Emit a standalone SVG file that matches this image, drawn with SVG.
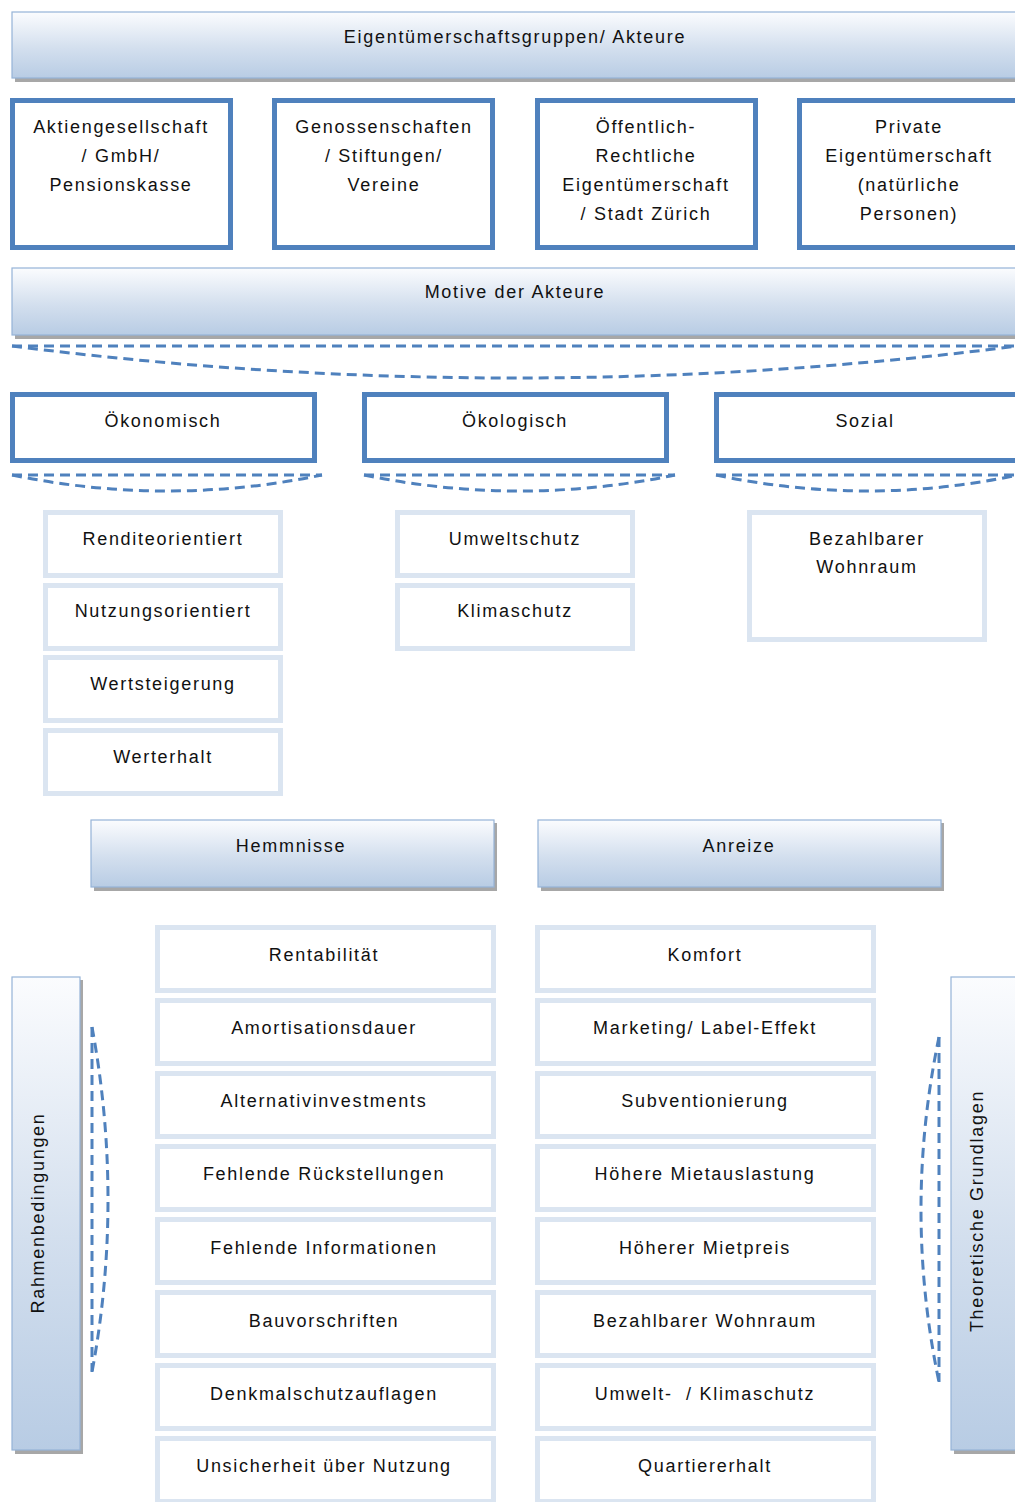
<svg xmlns="http://www.w3.org/2000/svg" width="1015" height="1502" viewBox="0 0 1015 1502">
<defs>
<linearGradient id="hg" x1="0" y1="0" x2="0" y2="1">
<stop offset="0" stop-color="#fbfcfe"/>
<stop offset="0.55" stop-color="#d3dfee"/>
<stop offset="1" stop-color="#b8cce4"/>
</linearGradient>
<style>
.t{font-family:"Liberation Sans",Arial,sans-serif;font-size:18px;letter-spacing:1.7px;fill:#111;text-anchor:middle}
.hdr{fill:url(#hg);stroke:#95b3d7;stroke-width:1.2}
.sh{fill:#8a8a8a;opacity:0.75}
.thick{fill:#fff;stroke:#4f81bd;stroke-width:5}
.light{fill:#fff;stroke:#dbe5f1;stroke-width:5}
.dash{fill:none;stroke:#4f81bd;stroke-width:3;stroke-dasharray:10 6}
</style>
</defs>
<rect width="1015" height="1502" fill="#fff"/>

<g id="header-eigentuemer">
<rect class="sh" x="15" y="15" width="1010" height="67"/>
<rect class="hdr" x="12" y="12" width="1010" height="66"/>
<text class="t" x="515" y="43">Eigentümerschaftsgruppen/ Akteure</text>
</g>

<g id="ag">
<rect class="thick" x="12.5" y="100.5" width="218" height="147"/>
<text class="t" x="121" y="133">Aktiengesellschaft</text>
<text class="t" x="121" y="162">/ GmbH/</text>
<text class="t" x="121" y="191">Pensionskasse</text>
</g>
<g id="genossenschaften">
<rect class="thick" x="274.5" y="100.5" width="218" height="147"/>
<text class="t" x="384" y="133">Genossenschaften</text>
<text class="t" x="384" y="162">/ Stiftungen/</text>
<text class="t" x="384" y="191">Vereine</text>
</g>
<g id="oeffentlich">
<rect class="thick" x="537.5" y="100.5" width="218" height="147"/>
<text class="t" x="646" y="133">Öffentlich-</text>
<text class="t" x="646" y="162">Rechtliche</text>
<text class="t" x="646" y="191">Eigentümerschaft</text>
<text class="t" x="646" y="220">/ Stadt Zürich</text>
</g>
<g id="private">
<rect class="thick" x="799.5" y="100.5" width="218" height="147"/>
<text class="t" x="909" y="133">Private</text>
<text class="t" x="909" y="162">Eigentümerschaft</text>
<text class="t" x="909" y="191">(natürliche</text>
<text class="t" x="909" y="220">Personen)</text>
</g>

<g id="header-motive">
<rect class="sh" x="15" y="271" width="1010" height="68"/>
<rect class="hdr" x="12" y="268" width="1010" height="67"/>
<text class="t" x="515" y="298">Motive der Akteure</text>
</g>

<g id="oekonomisch">
<rect class="thick" x="12.5" y="394.5" width="302" height="66"/>
<text class="t" x="163" y="427">Ökonomisch</text>
</g>
<g id="oekologisch">
<rect class="thick" x="364.5" y="394.5" width="302" height="66"/>
<text class="t" x="515" y="427">Ökologisch</text>
</g>
<g id="sozial">
<rect class="thick" x="716.5" y="394.5" width="302" height="66"/>
<text class="t" x="865" y="427">Sozial</text>
</g>

<g id="renditeorientiert">
<rect class="light" x="45.5" y="512.5" width="235" height="63"/>
<text class="t" x="163" y="545">Renditeorientiert</text>
</g>
<g id="nutzungsorientiert">
<rect class="light" x="45.5" y="585.5" width="235" height="63"/>
<text class="t" x="163" y="617">Nutzungsorientiert</text>
</g>
<g id="wertsteigerung">
<rect class="light" x="45.5" y="657.5" width="235" height="63"/>
<text class="t" x="163" y="690">Wertsteigerung</text>
</g>
<g id="werterhalt">
<rect class="light" x="45.5" y="730.5" width="235" height="63"/>
<text class="t" x="163" y="763">Werterhalt</text>
</g>
<g id="umweltschutz">
<rect class="light" x="397.5" y="512.5" width="235" height="63"/>
<text class="t" x="515" y="545">Umweltschutz</text>
</g>
<g id="klimaschutz">
<rect class="light" x="397.5" y="585.5" width="235" height="63"/>
<text class="t" x="515" y="617">Klimaschutz</text>
</g>
<g id="bezahlbarer-wohnraum">
<rect class="light" x="749.5" y="512.5" width="235" height="127"/>
<text class="t" x="867" y="545">Bezahlbarer</text>
<text class="t" x="867" y="573">Wohnraum</text>
</g>

<g id="hemmnisse">
<rect class="sh" x="94" y="823" width="403" height="68"/>
<rect class="hdr" x="91" y="820" width="403" height="67"/>
<text class="t" x="291" y="852">Hemmnisse</text>
</g>
<g id="anreize">
<rect class="sh" x="541" y="823" width="403" height="68"/>
<rect class="hdr" x="538" y="820" width="403" height="67"/>
<text class="t" x="739" y="852">Anreize</text>
</g>

<g id="h1"><rect class="light" x="157.5" y="927.5" width="336" height="63"/><text class="t" x="324" y="961">Rentabilität</text></g>
<g id="h2"><rect class="light" x="157.5" y="1000.5" width="336" height="63"/><text class="t" x="324" y="1034">Amortisationsdauer</text></g>
<g id="h3"><rect class="light" x="157.5" y="1073.5" width="336" height="63"/><text class="t" x="324" y="1107">Alternativinvestments</text></g>
<g id="h4"><rect class="light" x="157.5" y="1146.5" width="336" height="63"/><text class="t" x="324" y="1180">Fehlende Rückstellungen</text></g>
<g id="h5"><rect class="light" x="157.5" y="1219.5" width="336" height="63"/><text class="t" x="324" y="1254">Fehlende Informationen</text></g>
<g id="h6"><rect class="light" x="157.5" y="1292.5" width="336" height="63"/><text class="t" x="324" y="1327">Bauvorschriften</text></g>
<g id="h7"><rect class="light" x="157.5" y="1365.5" width="336" height="63"/><text class="t" x="324" y="1400">Denkmalschutzauflagen</text></g>
<g id="h8"><rect class="light" x="157.5" y="1438.5" width="336" height="63"/><text class="t" x="324" y="1472">Unsicherheit über Nutzung</text></g>

<g id="a1"><rect class="light" x="537.5" y="927.5" width="336" height="63"/><text class="t" x="705" y="961">Komfort</text></g>
<g id="a2"><rect class="light" x="537.5" y="1000.5" width="336" height="63"/><text class="t" x="705" y="1034">Marketing/ Label-Effekt</text></g>
<g id="a3"><rect class="light" x="537.5" y="1073.5" width="336" height="63"/><text class="t" x="705" y="1107">Subventionierung</text></g>
<g id="a4"><rect class="light" x="537.5" y="1146.5" width="336" height="63"/><text class="t" x="705" y="1180">Höhere Mietauslastung</text></g>
<g id="a5"><rect class="light" x="537.5" y="1219.5" width="336" height="63"/><text class="t" x="705" y="1254">Höherer Mietpreis</text></g>
<g id="a6"><rect class="light" x="537.5" y="1292.5" width="336" height="63"/><text class="t" x="705" y="1327">Bezahlbarer Wohnraum</text></g>
<g id="a7"><rect class="light" x="537.5" y="1365.5" width="336" height="63"/><text class="t" x="705" y="1400" xml:space="preserve">Umwelt-  / Klimaschutz</text></g>
<g id="a8"><rect class="light" x="537.5" y="1438.5" width="336" height="63"/><text class="t" x="705" y="1472">Quartiererhalt</text></g>

<g id="rahmenbedingungen">
<rect class="sh" x="15" y="980" width="68" height="474"/>
<rect class="hdr" x="12" y="977" width="68" height="473"/>
<text class="t" transform="translate(44,1213) rotate(-90)">Rahmenbedingungen</text>
</g>
<g id="theoretische-grundlagen">
<rect class="sh" x="954" y="980" width="68" height="474"/>
<rect class="hdr" x="951" y="977" width="68" height="473"/>
<text class="t" transform="translate(983,1211) rotate(-90)">Theoretische Grundlagen</text>
</g>

<g id="connectors">
<path class="dash" d="M12,346 L1015,346"/>
<path class="dash" d="M12,346 Q515,410 1018,346"/>
<path class="dash" d="M12,475 L322,475"/>
<path class="dash" d="M12,475 Q167,507 322,475"/>
<path class="dash" d="M364,475 L675,475"/>
<path class="dash" d="M364,475 Q519,507 675,475"/>
<path class="dash" d="M716,475 L1018,475"/>
<path class="dash" d="M716,475 Q867,507 1018,475"/>
<path class="dash" d="M92,1027 L92,1372"/>
<path class="dash" d="M92,1027 Q124,1200 92,1372"/>
<path class="dash" d="M939,1037 L939,1382"/>
<path class="dash" d="M939,1037 Q903,1210 939,1382"/>
</g>
</svg>
